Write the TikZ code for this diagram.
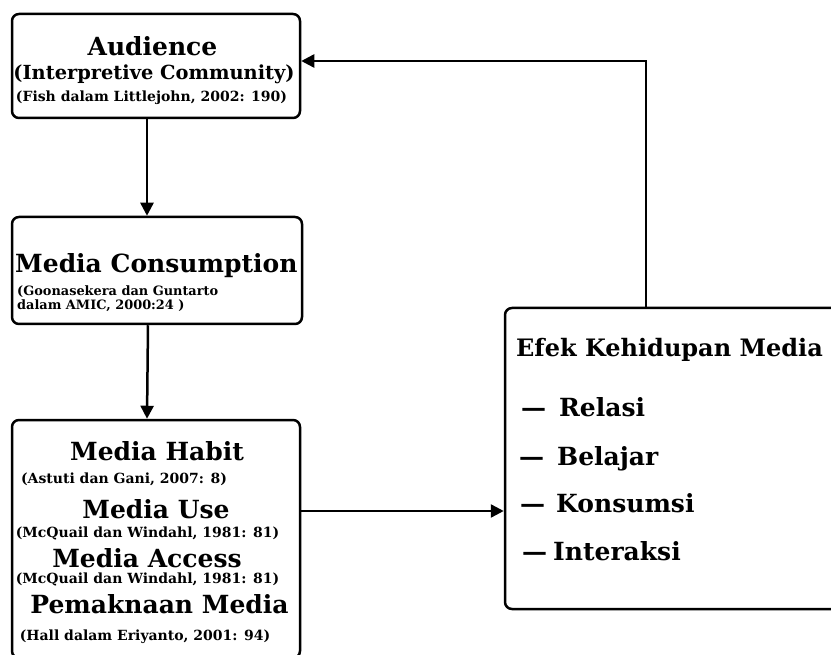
\documentclass[tikz,border=0pt]{standalone}
\usepackage{fontspec}
\setmainfont{DejaVu Serif}
\usetikzlibrary{arrows.meta}

\tikzset{
  box/.style={draw, line width=2.5pt, rounded corners=7pt, inner sep=0pt},
  link/.style={line width=2.5pt, -{Triangle[length=13pt,width=13pt]}},
  big/.style={font=\bfseries\fontsize{25}{29}\selectfont, inner sep=0pt},
  mid/.style={font=\bfseries\fontsize{19.4}{22}\selectfont, inner sep=0pt},
  cite/.style={font=\bfseries\fontsize{14}{16}\selectfont, inner sep=0pt},
  smallcite/.style={font=\bfseries\fontsize{12.9}{15}\selectfont, inner sep=0pt},
}

\begin{document}
\begin{tikzpicture}[x=1pt, y=-1pt]
  \useasboundingbox (0,0) rectangle (831,655);
  \clip (0,0) rectangle (831,655);

  % the four boxes
  \node[box, minimum width=288pt, minimum height=104pt] (audience) at (156,66) {};
  \node[box, minimum width=290pt, minimum height=107pt] (consumption) at (157,270.5) {};
  \node[box, minimum width=288pt, minimum height=238pt] (habit) at (156,539) {};
  \node[box, minimum width=365pt, minimum height=301pt] (effect) at (687.5,458.5) {};

  % audience
  \node[big, anchor=base] (aud) at (152.5,56) {Audience};
  \node[mid, anchor=base] (interp) at (154,80) {(Interpretive Community)};
  \node[cite, anchor=base] (fish) at (151.5,102) {(Fish dalam Littlejohn, 2002: 190)};

  % consumption
  \node[big, anchor=base west] (cons) at (15,273) {Media Consumption};
  \node[smallcite, anchor=base west] (goon) at (17,296) {(Goonasekera dan Guntarto};
  \node[smallcite, anchor=base west] (amic) at (17,310) {dalam AMIC, 2000:24 )};

  % habit, use, access, meaning
  \node[big, anchor=base] (hab) at (157,460) {Media Habit};
  \node[cite, anchor=base] (astuti) at (124,483) {(Astuti dan Gani, 2007: 8)};
  \node[big, anchor=base] (use) at (156,518) {Media Use};
  \node[cite, anchor=base] (mcq1) at (147.5,537) {(McQuail dan Windahl, 1981: 81)};
  \node[big, anchor=base] (acc) at (147,567) {Media Access};
  \node[cite, anchor=base] (mcq2) at (147.5,583) {(McQuail dan Windahl, 1981: 81)};
  \node[big, anchor=base] (mean) at (159.5,613) {Pemaknaan Media};
  \node[cite, anchor=base] (hall) at (145,640) {(Hall dalam Eriyanto, 2001: 94)};

  % effects
  \node[big, font=\bfseries\fontsize{24}{28}\selectfont, anchor=base west] (efek) at (516,357) {Efek Kehidupan Media};
  \node[big, anchor=base west] (relasi) at (521,417) {—\hspace{13pt}Relasi};
  \node[big, anchor=base west] (belajar) at (519,465) {—\hspace{13pt}Belajar};
  \node[big, anchor=base west] (konsumsi) at (520,512) {—\hspace{11pt}Konsumsi};
  \node[big, anchor=base west] (interaksi) at (522,560) {—\hspace{6pt}Interaksi};

  % arrows
  \draw[link] ([xshift=-9pt]audience.south) -- ([xshift=-10pt]consumption.north);
  \draw[link] ([xshift=-9pt]consumption.south) -- ([xshift=-9pt]habit.north);
  \draw[link] ([yshift=28pt]habit.east) coordinate (h) -- (h -| effect.west);
  \draw[link] ([xshift=-41.5pt]effect.north) |- ([yshift=5pt]audience.east);
\end{tikzpicture}
\end{document}
